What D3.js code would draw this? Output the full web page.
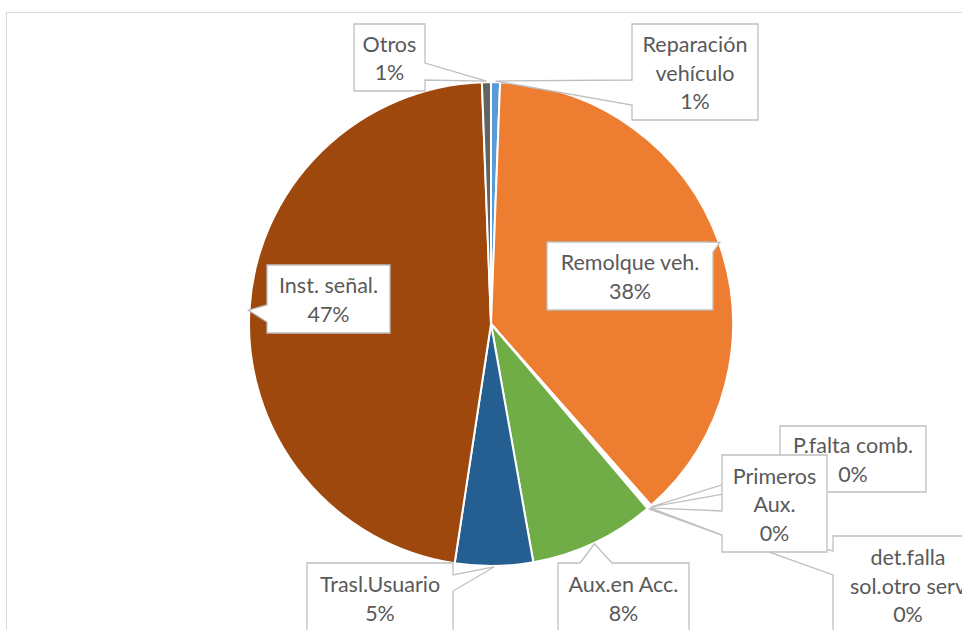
<!DOCTYPE html>
<html>
<head>
<meta charset="utf-8">
<script src="https://cdn.jsdelivr.net/npm/d3@7"></script>
<style>
  body { margin: 0; background: #fff; }
  svg { display: block; overflow: hidden; }
</style>
</head>
<body>
<svg id="chart"></svg>
<script>
// data (percent of services)
var categories = ["Reparación vehículo", "Remolque veh.", "P.falta comb.", "Primeros Aux.",
                  "det.falla sol.otro serv", "Aux.en Acc.", "Trasl.Usuario", "Inst. señal.", "Otros"]
var values = [0.6, 37.9, 0.1, 0.1, 0.1, 8.4, 5.2, 47.0, 0.6]
var labelLines = [["Reparación", "vehículo"], ["Remolque veh."], ["P.falta comb."], ["Primeros", "Aux."],
                  ["det.falla", "sol.otro serv"], ["Aux.en Acc."], ["Trasl.Usuario"], ["Inst. señal."], ["Otros"]]
var colors = ["#5B9BD5", "#ED7D31", "#A5A5A5", "#FFC000", "#4472C4", "#70AD47", "#255E91", "#9E480E", "#636363"]

// callout boxes (layout only): box + where the pointer leaves the box
var callouts = [
  {x: 632, y: 24,  w: 126, h: 96,  side: "left",     a: 56, b: 81},
  {x: 547, y: 242, w: 166, h: 68,  side: "topright", a: 8,  b: 10},
  {x: 780, y: 426, w: 146, h: 66,  side: "left",     a: 41, b: 58},
  {x: 722, y: 455, w: 105, h: 97,  side: "left",     a: 56, b: 80},
  {x: 833, y: 536, w: 150, h: 98,  side: "left",     a: 15, b: 39},
  {x: 558, y: 563, w: 131, h: 70,  side: "top",      a: 22, b: 54},
  {x: 307, y: 563, w: 146, h: 70,  side: "right",    a: 12, b: 28},
  {x: 267, y: 265, w: 123, h: 68,  side: "left",     a: 40, b: 57},
  {x: 354, y: 24,  w: 71,  h: 67,  side: "right",    a: 39, b: 56}
]
// drawn back to front
var drawOrder = [4, 2, 3, 0, 1, 5, 6, 7, 8]

var width = 962, height = 630
var cx = 491, cy = 324, radius = 242

var svg = d3.select("#chart")
    .attr("width", width)
    .attr("height", height)

// chart area border
svg.append("rect")
    .attr("x", 6.5).attr("y", 12.5)
    .attr("width", 1200).attr("height", 1000)
    .attr("fill", "none")
    .attr("stroke", "#D9D9D9")

var total = d3.sum(values)
var data = categories.map((c, i) => ({name: c, value: values[i], lines: labelLines[i], color: colors[i], box: callouts[i]}))

var pie = d3.pie().sort(null).value(d => d.value)
var arcs = pie(data)

var arc = d3.arc().innerRadius(0).outerRadius(radius)
var edge = d3.arc().innerRadius(radius + 1).outerRadius(radius + 1)

var g = svg.append("g").attr("transform", `translate(${cx},${cy})`)

g.selectAll("path")
  .data(arcs)
  .enter()
  .append("path")
    .attr("d", arc)
    .attr("fill", d => d.data.color)
    .attr("stroke", "#fff")
    .attr("stroke-width", 2)
    .attr("stroke-linejoin", "round")

function calloutPath(b, tip) {
  var x0 = b.x, y0 = b.y, x1 = b.x + b.w, y1 = b.y + b.h
  var pts
  if (b.side == "left") pts = [[x0, y0], [x1, y0], [x1, y1], [x0, y1], [x0, y0 + b.b], tip, [x0, y0 + b.a]]
  else if (b.side == "right") pts = [[x0, y0], [x1, y0], [x1, y0 + b.a], tip, [x1, y0 + b.b], [x1, y1], [x0, y1]]
  else if (b.side == "top") pts = [[x0, y0], [x0 + b.a, y0], tip, [x0 + b.b, y0], [x1, y0], [x1, y1], [x0, y1]]
  else pts = [[x0, y0], [x1 - b.a, y0], tip, [x1, y0 + b.b], [x1, y1], [x0, y1]]
  return "M" + pts.map(p => p.join(",")).join("L") + "Z"
}

var labels = svg.append("g")
  .selectAll("g")
  .data(drawOrder.map(i => arcs[i]))
  .enter()
  .append("g")

labels.append("path")
    .attr("d", d => {
      var c = edge.centroid(d)
      return calloutPath(d.data.box, [cx + c[0], cy + c[1]])
    })
    .attr("fill", "#fff")
    .attr("stroke", "#BFBFBF")
    .attr("stroke-width", 1.3)

var lineH = 28.5
labels.each(function (d) {
  var b = d.data.box
  var lines = d.data.lines.concat([Math.round(d.data.value / total * 100) + "%"])
  var mid = b.y + b.h / 2 + 1
  var t = d3.select(this).append("text")
      .attr("text-anchor", "middle")
      .attr("fill", "#595959")
      .style("font-family", "Lato, 'Open Sans', sans-serif")
      .style("font-size", "21.5px")
  lines.forEach((s, k) => {
    t.append("tspan")
      .attr("x", b.x + b.w / 2)
      .attr("y", mid + (k - (lines.length - 1) / 2) * lineH)
      .attr("dy", "0.35em")
      .text(s)
  })
})
</script>
</body>
</html>
